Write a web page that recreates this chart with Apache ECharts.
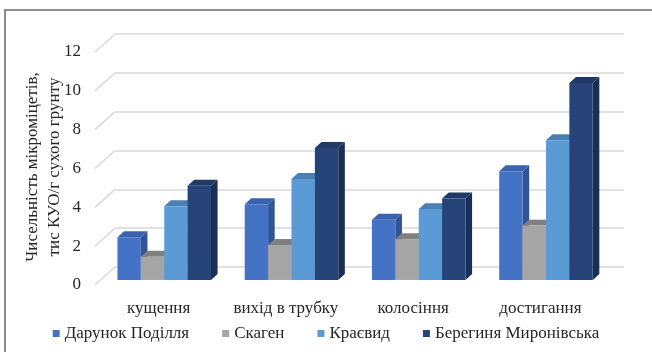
<!DOCTYPE html>
<html>
<head>
<meta charset="utf-8">
<script src="https://cdn.jsdelivr.net/npm/echarts@6/dist/echarts.min.js"></script>
<style>
  html, body { margin: 0; padding: 0; background: #fff; }
  #chart { width: 652px; height: 352px; }
</style>
</head>
<body>
<div id="chart"></div>
<script>
const categories = ['кущення', 'вихід в трубку', 'колосіння', 'достигання'];
const seriesNames = ['Дарунок Поділля', 'Скаген', 'Краєвид', 'Берегиня Миронівська'];
const darunok   = [2.2, 3.9, 3.1, 5.6];
const skagen    = [1.2, 1.8, 2.1, 2.8];
const kraievyd  = [3.8, 5.2, 3.65, 7.2];
const berehynia = [4.85, 6.8, 4.2, 10.15];
const yTicks = [0, 2, 4, 6, 8, 10, 12];

// face colours: front, side, top
const faces = [
  ['#4472c4', '#2f5597', '#3a63ad'],
  ['#a5a5a5', '#7f7f7f', '#808080'],
  ['#5b9bd5', '#41719c', '#4a80b3'],
  ['#264478', '#1a2f55', '#203a66'],
];

const FONT = 'Liberation Serif, serif';
const DEPTH = [20, -18];       // floor depth vector (front -> back wall)
const F0 = 0.28, F1 = 0.61;    // bar front / back depth fraction

function barItem(s) {
  return function (params, api) {
    const cat = api.value(0);
    const val = api.value(1);
    const c = api.coord([cat, 0]);
    const band = api.size([1, 0])[0];
    const groupW = band * 0.735;
    const bw = groupW / 4;
    const x0 = c[0] - groupW / 2 + s * bw + DEPTH[0] * F0;
    const yb = c[1] + DEPTH[1] * F0;
    const h = api.size([0, val])[1];
    const yt = yb - h;
    const dx = DEPTH[0] * (F1 - F0), dy = DEPTH[1] * (F1 - F0);
    const col = faces[s];
    return {
      type: 'group',
      children: [
        { type: 'polygon', shape: { points: [[x0 + bw, yt], [x0 + bw + dx, yt + dy], [x0 + bw + dx, yb + dy], [x0 + bw, yb]] },
          style: { fill: col[1] } },
        { type: 'polygon', shape: { points: [[x0, yt], [x0 + dx, yt + dy], [x0 + bw + dx, yt + dy], [x0 + bw, yt]] },
          style: { fill: col[2] } },
        { type: 'rect', shape: { x: x0, y: yt, width: bw, height: h },
          style: { fill: col[0] } },
      ],
    };
  };
}

const values = [darunok, skagen, kraievyd, berehynia];
const barSeries = values.map((arr, s) => ({
  name: seriesNames[s],
  type: 'custom',
  xAxisIndex: 1,
  yAxisIndex: 1,
  itemStyle: { color: faces[s][0] },
  renderItem: barItem(s),
  data: arr.map((v, i) => [i, v]),
  z: 3,
}));

const chart = echarts.init(document.getElementById('chart'), null, { renderer: 'canvas' });
chart.setOption({
  animation: false,
  backgroundColor: '#fff',
  grid: [
    { left: 115, right: 28, top: 34, bottom: 85 },  // back wall
    { left: 95, right: 48, top: 52, bottom: 67 },   // front plane
  ],
  xAxis: [
    { gridIndex: 0, type: 'category', data: categories, show: false },
    {
      gridIndex: 1, type: 'category', data: categories,
      axisLine: { show: false }, axisTick: { show: false },
      axisLabel: { interval: 0, margin: 15, fontSize: 17, color: '#262626', fontFamily: FONT },
    },
  ],
  yAxis: [
    {
      gridIndex: 0, type: 'value', min: 0, max: 12, interval: 2,
      axisLabel: { show: false }, axisLine: { show: false }, axisTick: { show: false },
      splitLine: { lineStyle: { color: '#d9d9d9', width: 1.5 } },
    },
    {
      gridIndex: 1, type: 'value', min: 0, max: 12, interval: 2,
      axisLine: { show: false }, axisTick: { show: false }, splitLine: { show: false },
      axisLabel: { margin: 14, fontSize: 17, color: '#262626', fontFamily: FONT },
    },
  ],
  legend: {
    data: seriesNames,
    left: 'center',
    top: 320,
    icon: 'rect',
    itemWidth: 7,
    itemHeight: 7,
    itemGap: 33,
    textStyle: { fontSize: 17, color: '#262626', fontFamily: FONT },
  },
  graphic: [
    { type: 'polyline', shape: { points: [[5, 352], [5, 10], [652, 10]] },
      style: { stroke: '#8c8c8c', lineWidth: 2, fill: null } },
    { type: 'text', x: 44, y: 167, rotation: Math.PI / 2,
      style: { text: 'Чисельність мікроміцетів,\nтис КУО/г сухого грунту', fontSize: 17, lineHeight: 22,
        fontFamily: FONT, fill: '#262626', align: 'center', verticalAlign: 'middle' } },
  ],
  series: [
    {
      type: 'custom',
      xAxisIndex: 1,
      yAxisIndex: 1,
      silent: true,
      data: yTicks.map(v => [0, v]),
      renderItem: (params, api) => {
        const y = api.coord([0, api.value(1)])[1];
        const x = params.coordSys.x;
        return { type: 'line', shape: { x1: x, y1: y, x2: x + DEPTH[0], y2: y + DEPTH[1] },
          style: { stroke: '#d9d9d9', lineWidth: 1.5 } };
      },
      z: 1,
    },
    ...barSeries,
  ],
});
</script>
</body>
</html>
